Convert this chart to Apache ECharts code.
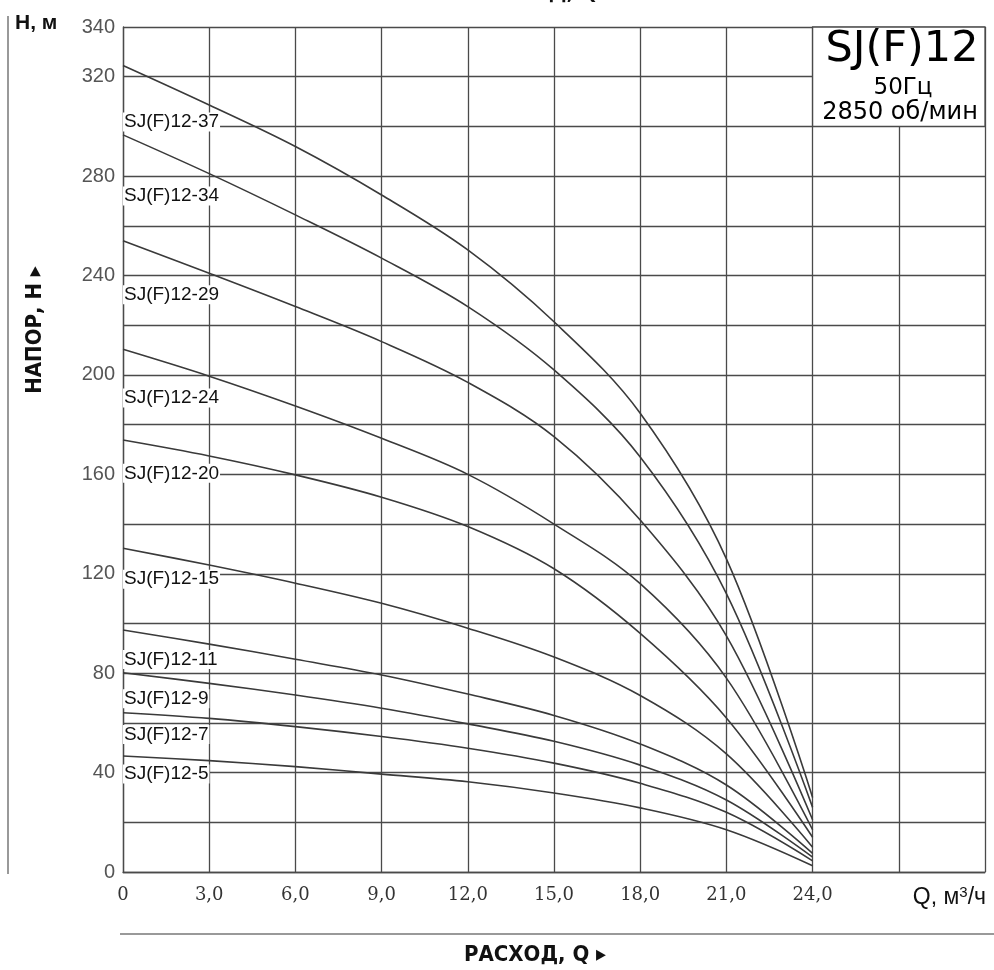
<!DOCTYPE html>
<html>
<head>
<meta charset="utf-8">
<script src="https://cdn.jsdelivr.net/npm/echarts@6/dist/echarts.min.js"></script>
<style>
html,body{margin:0;padding:0;background:#fff;}
#chart{width:994px;height:970px;}
</style>
</head>
<body>
<div id="chart"></div>
<script>
// Flow Q, m3/h
const flowQ = [0, 3, 6, 9, 12, 15, 18, 21, 24];
// Head H, m for each pump model
const h37 = [324.5, 308.6, 291.9, 272.4, 250.3, 221.4, 184.6, 126, 30];
const h34 = [296.6, 281, 264.4, 247, 227.5, 202, 167, 112, 26];
const h29 = [254, 240.9, 227.5, 213.4, 197, 175.2, 141.6, 95, 21];
const h24 = [210.3, 199.5, 187.5, 174.5, 160, 140, 116, 78, 17];
const h20 = [173.8, 167.4, 159.8, 150.8, 139, 122, 96, 62, 14];
const h15 = [130.3, 123.5, 116.2, 108.1, 98.1, 86.5, 71, 47.5, 10];
const h11 = [97.4, 91.7, 85.6, 79.3, 71.6, 63, 51.5, 35, 7.5];
const h9  = [80.2, 75.9, 71.2, 65.9, 59.6, 52.6, 43, 29, 6];
const h7  = [64.1, 61.8, 58.5, 54.5, 49.8, 43.8, 35.7, 24, 4.5];
const h5  = [46.7, 44.8, 42.4, 39.4, 36.3, 31.8, 25.8, 17, 2.5];
const modelNames = ['SJ(F)12-37','SJ(F)12-34','SJ(F)12-29','SJ(F)12-24','SJ(F)12-20','SJ(F)12-15','SJ(F)12-11','SJ(F)12-9','SJ(F)12-7','SJ(F)12-5'];
const heads = [h37, h34, h29, h24, h20, h15, h11, h9, h7, h5];
// label anchor heights (value coords) at Q = 0
const labelAnchorH = [301.8, 272, 232.3, 190.7, 160.4, 117.8, 85.5, 69.7, 55.3, 39.4];
const xTickMax = 24;

const chart = echarts.init(document.getElementById('chart'), null, {renderer:'canvas'});
const gridColor = '#4a4a4a';

const series = modelNames.map((name, i) => ({
  name: name,
  type: 'line',
  data: flowQ.map((q, j) => [q, heads[i][j]]),
  smooth: 0.35,
  symbol: 'none',
  lineStyle: {color: '#3a3a3a', width: 1.6},
  z: 3,
  markPoint: {
    symbol: 'rect', symbolSize: 0.01,
    silent: true,
    data: [{coord: [0, labelAnchorH[i]]}],
    label: {
      show: true, position: 'right', distance: 0,
      formatter: name,
      fontFamily: 'Liberation Sans, Arial, sans-serif',
      fontSize: 19, color: '#111',
      backgroundColor: '#fff', padding: [0, 1, 0, 1]
    }
  }
}));

series.push({
  type: 'line', data: [], silent: true,
  markArea: {
    silent: true,
    itemStyle: {color: '#fff', borderColor: gridColor, borderWidth: 1.3, opacity: 1},
    data: [[{coord: [24, 300]}, {coord: [30, 340]}]]
  },
  z: 4
});

chart.setOption({
  animation: false,
  backgroundColor: '#fff',
  grid: {left: 123, right: 9, top: 27, bottom: 98, containLabel: false},
  xAxis: {
    type: 'value', min: 0, max: 30, interval: 3,
    axisLine: {show: true, lineStyle: {color: gridColor, width: 1.3}},
    axisTick: {show: false},
    splitLine: {show: true, lineStyle: {color: gridColor, width: 1.3}},
    axisLabel: {
      margin: 14,
      fontFamily: 'DejaVu Serif, serif', fontSize: 18, color: '#333',
      formatter: v => v > xTickMax ? '' : (v === 0 ? '0' : v.toFixed(1).replace('.', ','))
    }
  },
  yAxis: {
    type: 'value', min: 0, max: 340, interval: 20,
    axisLine: {show: true, lineStyle: {color: gridColor, width: 1.3}},
    axisTick: {show: false},
    splitLine: {show: true, lineStyle: {color: gridColor, width: 1.3}},
    axisLabel: {
      margin: 8,
      fontFamily: 'Liberation Sans, Arial, sans-serif', fontSize: 20, color: '#555',
      formatter: v => (v % 40 === 0 || v === 340) ? String(v) : ''
    }
  },
  series: series,
  graphic: [
    {type: 'line', shape: {x1: 8, y1: 16, x2: 8, y2: 874}, style: {stroke: '#777', lineWidth: 1.5}},
    {type: 'line', shape: {x1: 120, y1: 934, x2: 994, y2: 934}, style: {stroke: '#777', lineWidth: 1.5}},
    {type: 'text', left: 15, top: 13, style: {text: 'H, м', fontFamily: 'Liberation Sans, Arial, sans-serif', fontWeight: 'bold', fontSize: 21, fill: '#111'}},
    {type: 'text', x: 35, y: 330, rotation: Math.PI / 2,
      style: {text: 'НАПОР, Н ▸', fontFamily: 'DejaVu Sans Condensed, DejaVu Sans, sans-serif', fontWeight: 'bold', fontSize: 22, fill: '#111', align: 'center', verticalAlign: 'middle'}},
    {type: 'text', x: 535, y: 955,
      style: {text: 'РАСХОД, Q ▸', fontFamily: 'DejaVu Sans Condensed, DejaVu Sans, sans-serif', fontWeight: 'bold', fontSize: 22, fill: '#111', align: 'center', verticalAlign: 'middle'}},
    {type: 'text', x: 535, y: -7,
      style: {text: 'РАСХОД, Q', fontFamily: 'DejaVu Sans Condensed, DejaVu Sans, sans-serif', fontWeight: 'bold', fontSize: 22, fill: '#111', align: 'center', verticalAlign: 'middle'}},
    {type: 'text', x: 986, y: 898,
      style: {
        text: '{a|Q, м}{s|3}{a|/ч}', align: 'right', verticalAlign: 'middle',
        rich: {
          a: {fontFamily: 'Liberation Sans, Arial, sans-serif', fontSize: 23, fill: '#111'},
          s: {fontFamily: 'Liberation Sans, Arial, sans-serif', fontSize: 15, fill: '#111', verticalAlign: 'top', padding: [0, 0, 10, 0]}
        }
      }},
    {type: 'text', x: 902, y: 50, z: 10,
      style: {text: 'SJ(F)12', fontFamily: 'DejaVu Sans, sans-serif', fontSize: 43, fill: '#000', align: 'center', verticalAlign: 'middle'}},
    {type: 'text', x: 903, y: 88, z: 10,
      style: {text: '50Гц', fontFamily: 'DejaVu Sans, sans-serif', fontSize: 23, fill: '#000', align: 'center', verticalAlign: 'middle'}},
    {type: 'text', x: 900, y: 113, z: 10,
      style: {text: '2850 об/мин', fontFamily: 'DejaVu Sans, sans-serif', fontSize: 24, fill: '#000', align: 'center', verticalAlign: 'middle'}}
  ]
});
</script>
</body>
</html>
